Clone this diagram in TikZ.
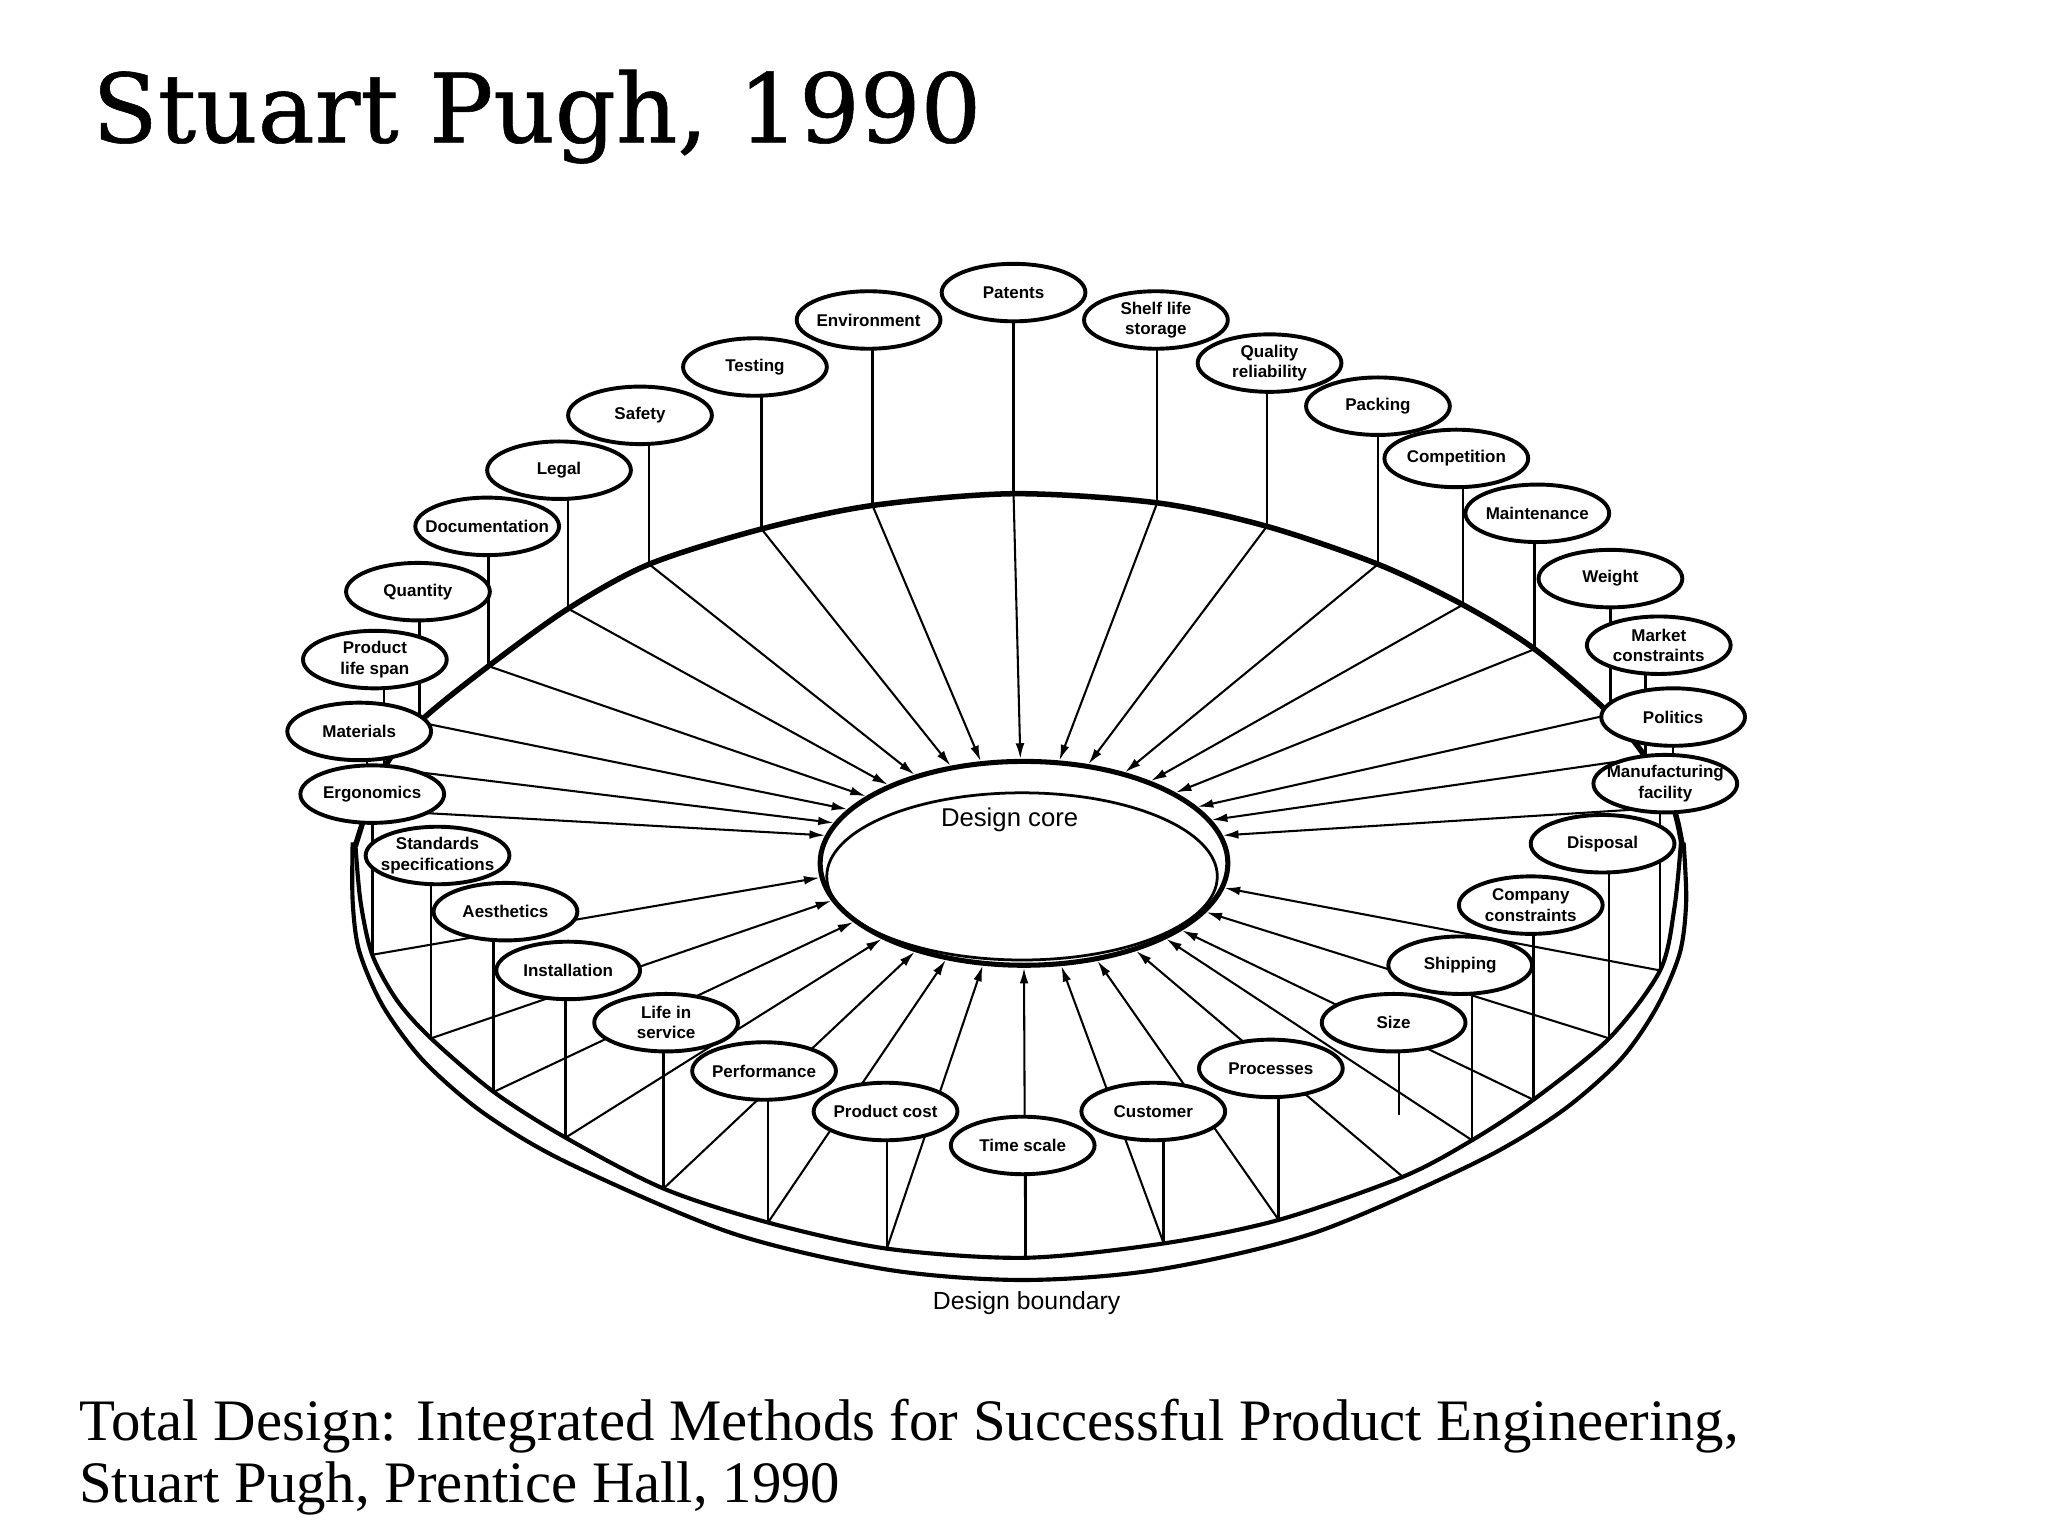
\documentclass[tikz,border=0pt]{standalone}
\usepackage{fontspec}
\setmainfont{Liberation Serif}
\setsansfont{Liberation Sans}
\newfontfamily\titlefont[FakeBold=0.6]{DejaVu Serif}
\usetikzlibrary{shapes.geometric,arrows.meta}
\pgfdeclarelayer{bg}
\pgfsetlayers{bg,main}
\newcommand\tpc[3]{\node[topic] (#1) at (#2) {};\node[lbl] (#1-t) at (#1.center) {#3};}
\begin{document}
\begin{tikzpicture}[x=0.01cm,y=-0.01cm,
  topic/.style={ellipse, draw, line width=0.85pt, fill=white, minimum width=1.1cm, minimum height=0.44cm, inner sep=0pt},
  lbl/.style={inner sep=0pt, align=center, font=\sffamily\bfseries\fontsize{3.7pt}{4.4pt}\selectfont},
  stem/.style={line width=0.55pt},
  spoke/.style={line width=0.45pt, -{Latex[length=3.4pt,width=1.9pt]}},
  rim/.style={line width=0.9pt}]
\useasboundingbox (0,0) rectangle (1568,1176);

% titles
\node[anchor=base west, inner sep=0pt, font=\titlefont\fontsize{20.8pt}{25pt}\selectfont] (title) at (70,109) {Stuart Pugh, 1990};
\node[anchor=base west, inner sep=0pt, font=\rmfamily\fontsize{12.8pt}{15pt}\selectfont] (ref1) at (60,1103) {Total Design: Integrated Methods for Successful Product Engineering,};
\node[anchor=base west, inner sep=0pt, font=\rmfamily\fontsize{12.8pt}{15pt}\selectfont] (ref2) at (60,1150) {Stuart Pugh, Prentice Hall, 1990};

% design core
\node[ellipse, draw, line width=1.1pt, fill=white, minimum width=3.12cm, minimum height=1.56cm, inner sep=0pt] (core) at (784,661) {};
\draw[line width=0.6pt] (782.5,671) ellipse [x radius=149.5, y radius=64];
\node[inner sep=0pt, font=\sffamily\fontsize{5.6pt}{6pt}\selectfont] (corelbl) at (773,628) {Design core};
\node[inner sep=0pt, font=\sffamily\fontsize{5.4pt}{6pt}\selectfont] (boundlbl) at (786,998) {Design boundary};

% topics
\tpc{Pls}{287,505}{Product\\life span}
\tpc{Qua}{320,453}{Quantity}
\tpc{Doc}{373,403}{Documentation}
\tpc{Leg}{428,360}{Legal}
\tpc{Saf}{490,318}{Safety}
\tpc{Tes}{578,281}{Testing}
\tpc{Env}{665,245}{Environment}
\tpc{Pat}{776,224}{Patents}
\tpc{She}{885,245}{Shelf life\\storage}
\tpc{Que}{972,278}{Quality\\reliability}
\tpc{Pac}{1055,311}{Packing}
\tpc{Com}{1115,351}{Competition}
\tpc{Mai}{1177,393}{Maintenance}
\tpc{Wei}{1233,443}{Weight}
\tpc{Mar}{1270,494}{Market\\constraints}
\tpc{Pol}{1281,549}{Politics}
\tpc{Man}{1275,600}{Manufacturing\\facility}
\tpc{Dis}{1227,646}{Disposal}
\tpc{Cpy}{1172,693}{Company\\constraints}
\tpc{Shi}{1118,739}{Shipping}
\tpc{Siz}{1067,783}{Size}
\tpc{Pro}{973,818}{Processes}
\tpc{Cus}{883,851}{Customer}
\tpc{Tim}{783,877}{Time scale}
\tpc{Pco}{678,851}{Product cost}
\tpc{Per}{585,820}{Performance}
\tpc{Lif}{510,783}{Life in\\service}
\tpc{Ins}{435,743}{Installation}
\tpc{Aes}{387,698}{Aesthetics}
\tpc{Sta}{335,655}{Standards\\specifications}
\tpc{Erg}{285,608}{Ergonomics}
\tpc{Mat}{275,560}{Materials}

% rim points
\coordinate (rMat) at (281,620);
\coordinate (rPls) at (294,588);
\coordinate (rQua) at (321,553);
\coordinate (rDoc) at (374,510);
\coordinate (rLeg) at (435,466);
\coordinate (rSaf) at (497,432);
\coordinate (rTes) at (583,405);
\coordinate (rEnv) at (668,387);
\coordinate (rPat) at (776,378);
\coordinate (rShe) at (886,385);
\coordinate (rQue) at (970,403);
\coordinate (rPac) at (1055,432);
\coordinate (rCom) at (1120,463);
\coordinate (rMai) at (1175,497);
\coordinate (rWei) at (1233,547);
\coordinate (rMar) at (1260,580);
\coordinate (rPol) at (1281,618);
\coordinate (rMan) at (1271,743);
\coordinate (rDis) at (1232,795);
\coordinate (rCpy) at (1174,842);
\coordinate (rShi) at (1127,873);
\coordinate (rSiz) at (1074,901);
\coordinate (rPro) at (979,934);
\coordinate (rCus) at (891,952);
\coordinate (rTim) at (785,963);
\coordinate (rPco) at (679,956);
\coordinate (rPer) at (588,936);
\coordinate (rLif) at (508,910);
\coordinate (rIns) at (433,871);
\coordinate (rAes) at (378,836);
\coordinate (rSta) at (330,795);
\coordinate (rErg) at (285,731);
\coordinate (sizeEnd) at (1071,854);

\begin{pgfonlayer}{bg}
\fill[white] (0,0) rectangle (1568,1176);
% dish outline
\draw[line width=1.2pt] plot[smooth] coordinates {(272,648) (rMat) (rPls) (rQua) (rDoc) (rLeg) (rSaf) (rTes) (rEnv) (rPat) (rShe) (rQue) (rPac) (rCom) (rMai) (rWei) (rMar) (rPol) (1288,648)};
\draw[rim] plot[smooth] coordinates {(270,645) (270,690) (275,728) (293,770) (324,812) (370,852) (434,890) (560,944) (679,972) (783,980) (887,972) (1006,944) (1130,890) (1194,852) (1240,812) (1268,772) (1286,730) (1291,690) (1289,645)};
\draw[rim] plot[smooth] coordinates {(272,645) (276,690) (rErg) (304,766) (rSta) (rAes) (rIns) (rLif) (rPer) (rPco) (rTim) (rCus) (rPro) (rSiz) (rShi) (rCpy) (rDis) (rMan) (1282,695) (1287,645)};

% stems
\foreach \t in {Mat,Pls,Qua,Doc,Leg,Saf,Tes,Env,Pat,She,Que,Pac,Com,Mai,Wei,Mar,Pol,Man,Dis,Cpy,Shi,Pro,Cus,Tim,Pco,Per,Lif,Ins,Aes,Sta,Erg}
  {\draw[stem] (r\t) -- (r\t |- \t.center);}
\draw[stem] (sizeEnd) -- (sizeEnd |- Siz.center);

% spokes
\draw[spoke] (rMat) -- (core.172.2);
\draw[spoke] (rPls) -- (core.168);
\draw[spoke] (rQua) -- (core.163.7);
\draw[spoke] (rDoc) -- (core.157.6);
\draw[spoke] (rLeg) -- (core.150);
\draw[spoke] (rSaf) -- (core.141.1);
\draw[spoke] (rTes) -- (core.127.4);
\draw[spoke] (rEnv) -- (core.113.4);
\draw[spoke] (rPat) -- (core.92.6);
\draw[spoke] (rShe) -- (core.71.8);
\draw[spoke] (rQue) -- (core.57.6);
\draw[spoke] (rPac) -- (core.42.8);
\draw[spoke] (rCom) -- (core.33.2);
\draw[spoke] (rMai) -- (core.25.3);
\draw[spoke] (rWei) -- (core.18);
\draw[spoke] (rMar) -- (core.13.5);
\draw[spoke] (rPol) -- (core.8.4);
\draw[spoke] (rMan) -- (core.353.2);
\draw[spoke] (rDis) -- (core.345.9);
\draw[spoke] (rCpy) -- (core.337.7);
\draw[spoke] (rShi) -- (core.332.7);
\draw[spoke] (rSiz) -- (core.322.8);
\draw[spoke] (rPro) -- (core.307.9);
\draw[spoke] (rCus) -- (core.290.9);
\draw[spoke] (rTim) -- (core.270);
\draw[spoke] (rPco) -- (core.248.7);
\draw[spoke] (rPer) -- (core.231.3);
\draw[spoke] (rLif) -- (core.219.3);
\draw[spoke] (rIns) -- (core.208.2);
\draw[spoke] (rAes) -- (core.199.6);
\draw[spoke] (rSta) -- (core.191);
\draw[spoke] (rErg) -- (core.184.5);
\end{pgfonlayer}
\end{tikzpicture}
\end{document}
